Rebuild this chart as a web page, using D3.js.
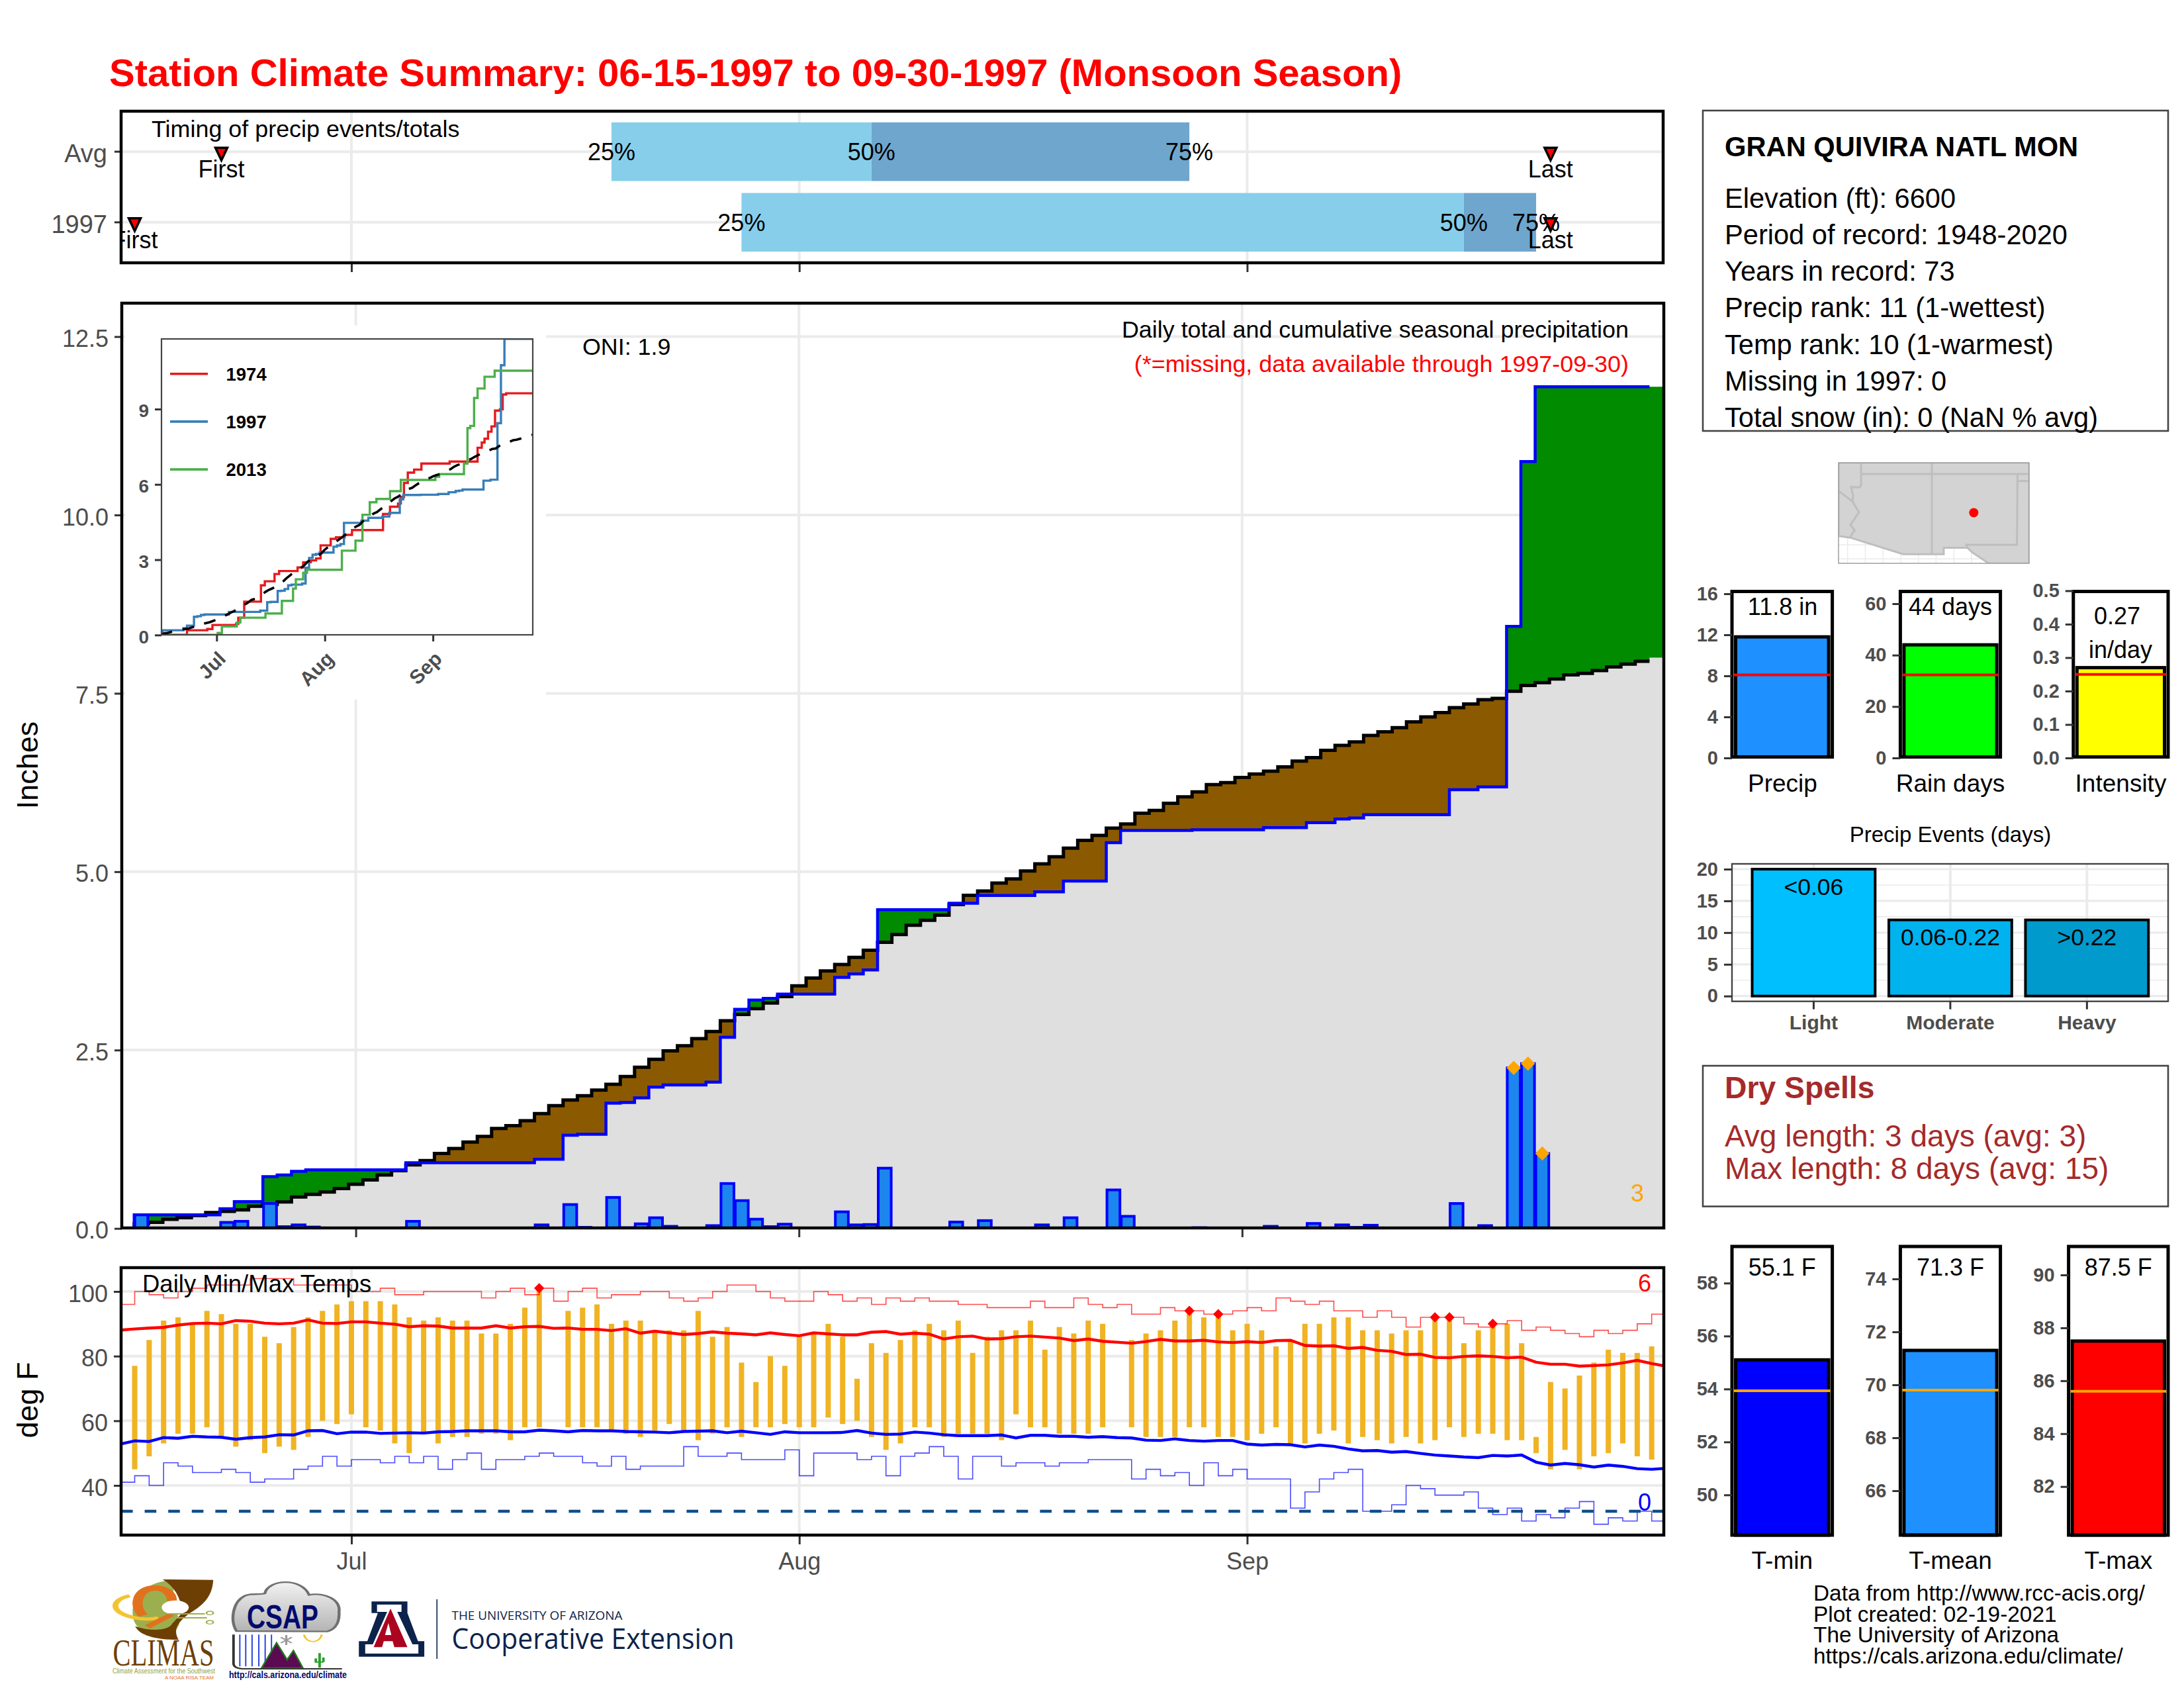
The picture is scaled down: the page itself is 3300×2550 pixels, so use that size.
<!DOCTYPE html>
<html>
<head>
<meta charset="utf-8">
<script src="https://cdn.jsdelivr.net/npm/d3@7"></script>
<style>
  html, body { margin: 0; padding: 0; background: #fff; }
  svg { display: block; font-family: "Liberation Sans", Arial, sans-serif; }
  .tick line { stroke: #333; stroke-width: 3; }
  .tick text { fill: #4D4D4D; }
  .domain { display: none; }
  .bold-ticks .tick text { font-weight: bold; font-size: 29px; }
</style>
</head>
<body>
<svg id="chart" width="3300" height="2550"></svg>
<script>
// --- season: day 0 is 15 June 1997, day 107 is 30 Sep 1997
const seasonStart = Date.UTC(1997, 5, 15);
const monthTicks = [16, 47, 78];

// --- timing panel
const timingRows = ['Avg', '1997'];
const timingQ25 = [34, 43];
const timingQ50 = [52, 93];
const timingQ75 = [74, 98];
const timingFirst = [7, 1];
const timingLast = [99, 99];

// --- daily precip for 1997 (only days that had any)
const precipDays = [1,7,8,10,11,12,13,20,29,31,32,34,35,36,37,38,41,42,43,44,45,46,50,51,52,53,58,60,64,66,69,70,75,80,83,85,86,87,93,95,97,98,99];
const precipInches = [.19,.085,.10,.35,.025,.05,.02,.10,.05,.335,.015,.435,.01,.065,.15,.03,.04,.63,.39,.13,.025,.06,.233,.05,.055,.845,.09,.11,.05,.15,.54,.17,.01,.03,.07,.05,.015,.045,.35,.04,2.25,2.31,1.05];
const extremeDays = [97, 98, 99];

// --- average cumulative precip, one value per day
const avgCumulative = [0,.065,.085,.127,.151,.182,.223,.24,.26,.31,.336,.37,.44,.477,.51,.56,.62,.68,.75,.81,.89,.95,1.05,1.12,1.21,1.29,1.40,1.44,1.51,1.61,1.72,1.80,1.86,1.94,2.02,2.13,2.26,2.37,2.49,2.56,2.66,2.76,2.91,3.00,3.08,3.16,3.25,3.40,3.51,3.61,3.70,3.80,3.90,4.01,4.12,4.25,4.32,4.39,4.54,4.67,4.73,4.84,4.90,5.01,5.11,5.21,5.33,5.44,5.51,5.61,5.67,5.82,5.86,5.96,6.05,6.12,6.22,6.25,6.32,6.37,6.41,6.47,6.55,6.60,6.70,6.77,6.82,6.91,6.96,7.02,7.10,7.17,7.23,7.30,7.35,7.41,7.43,7.53,7.61,7.65,7.70,7.76,7.78,7.82,7.87,7.91,7.95,8.00];

// --- inset: other years, day of each step and value after it
const days1974 = [0,7.5,13.3,14.8,21.6,22.2,23.9,28.7,29.8,32.6,33.9,39.2,40.8,43,44.5,45.8,48.7,50.2,52.7,54.8,63.7,65.7,68,68.8,69.7,70.8,72.6,74.7,82.8,90.8,92,92.8,93.8,94.8,95.8,97.2,98,99,107];
const vals1974 = [0,.19,.24,.40,.45,.69,1.33,1.98,2.14,2.43,2.55,2.69,2.90,2.97,3.05,3.57,3.83,3.89,3.99,4.18,4.82,5.11,5.24,5.5,6.06,6.47,6.59,6.83,6.91,7.46,7.67,7.82,8.10,8.31,8.94,8.99,9.58,9.63,9.63];
const days2013 = [0,16.3,17.5,21.8,22.8,30,34.7,37.9,38.7,40.8,41.9,51.9,55.8,57.8,59.9,61.8,65.7,68.8,78.7,79.8,86.9,87.9,88.7,89.8,90.8,92.8,95.7,107];
const vals2013 = [0,.08,.34,.5,.69,.86,1.36,1.85,2.22,2.48,2.60,3.36,3.76,4.79,5.29,5.42,5.73,6.18,6.30,6.41,6.83,8.24,8.33,9.44,9.82,10.29,10.53,10.53];
const insetYears = ['1974', '1997', '2013'];
const insetColors = ['#E41A1C', '#377EB8', '#4DAF4A'];

// --- daily temps (null = missing)
const tmax = [null,77,85,91,92,90,94,93,90,90,86,84,89,92,94,96,97,97,97,96,92,91,92,91,91,87,87,90,95,101,null,94,95,96,90,91,91,88,88,88,94,86,89,78,72,80,77,86,87,90,86,73,84,81,85,88,90,88,91,81,86,88,88,91,82,89,87,91,90,null,85,87,88,91,94,92,93,88,90,88,83,85,90,90,92,92,88,88,87,88,88,92,92,84,88,90,90,84,55,72,70,74,78,82,81,81,83,null];
const tmin = [null,45,49,53,56,56,58,55,52,54,50,52,51,55,60,59,62,58,57,53,50,56,53,55,55,56,56,54,58,58,null,58,58,58,57,56,55,57,59,57,54,56,58,55,58,58,59,58,58,61,59,60,55,51,53,58,58,55,56,56,56,54,62,58,58,56,56,56,58,null,58,55,55,55,58,58,55,55,54,56,58,53,53,56,57,53,55,54,53,55,53,54,58,55,56,56,54,54,50,45,51,45,49,50,53,49,48,null];
const avgTmax = [88.05,88.4,88.7,88.9,89.6,90.1,90.2,90,91,90.8,90.2,90,90.2,91.2,90.2,90.1,90.6,90.6,90.2,89.9,89.1,89.4,89.3,88.7,88.7,88.7,89.4,88.7,89.1,89.2,88.6,88.7,88.3,88.3,87.9,88.5,87.1,87.7,87.2,86.7,87,87.5,87.1,86.9,86.6,87.2,86.7,86.3,87.2,86.9,86.6,86.6,87.4,87.6,86.8,87.1,86.8,85.3,86,86.2,85.3,85.4,86,86.2,85.9,85.6,84.8,85.3,84.6,84.3,84,84.5,85.2,84.7,84.7,84.9,84.4,84.2,84.5,84.2,84.8,84.9,83.3,83.1,83.2,82.4,82.7,81.8,81.5,80.5,80.6,79.6,79.5,79.9,80.1,79.9,79.5,79.7,78.1,77.5,77.5,76.9,77.1,77.3,77.9,78.7,77.7,76.9];
const avgTmin = [52.8,53.8,53.6,54.8,54.6,55.2,55,54.9,54.3,54.8,55,55.7,55.6,56.9,57,56,56.5,56.5,56.1,56.2,56.3,56.2,56.6,56.7,56.9,56.9,56.9,56.6,56.6,57.1,56.9,56.6,57,56.9,56.9,56.7,56.6,56.5,56.3,56.7,56.8,56.9,56.3,56.8,56.3,55.8,56.6,56.3,56.3,56.3,56.4,57,56.2,55.8,55.9,56.5,56.2,55.7,55.4,55.4,55.4,55.6,54.7,55.5,55.5,55.2,55.2,54.9,55.1,54.8,54.7,54,53.9,54.4,53.9,53.7,53.9,53.9,52.8,52.5,52.7,52.6,51.9,52.5,52.1,51.3,50.7,50.8,50.3,50.5,49.9,49.4,49.1,48.8,48.6,49.3,49.1,49.4,47.2,46.3,46.8,46.4,45.7,46.3,45.9,45.2,45,45.3];
const recordMax = [96,100,99,98,100,101,102,102,102,104,104,104,102,102,102,102,100,100,101,99,99,100,100,100,100,98,100,101,99,101,97,100,101,98,99,99,100,100,98,97,98,100,102,102,100,98,97,97,100,99,97,98,96,98,97,98,97,97,96,96,95,95,95,97,95,95,98,96,95,96,93,93,95,94,94,93,93,94,95,94,98,97,96,97,94,94,92,94,92,89,92,92,92,90,89,90,91,88,89,88,87,86,88,87,88,90,93,93];
const recordMin = [41,43,40,47,46,44,44,45,44,41,42,42,45,46,49,46,48,48,47,49,47,49,45,48,50,45,48,48,49,50,49,49,47,46,49,45,46,46,46,52,49,49,50,48,48,48,51,43,50,50,50,48,49,43,49,50,52,49,42,49,49,46,47,47,46,47,47,48,48,48,42,45,43,44,40,47,43,45,42,42,42,33,38,42,44,45,32,32,34,40,39,37,37,38,33,31,33,29,31,30,33,35,28,30,29,32,29,29];
const recordHighDays = [29, 74, 76, 91, 92, 95];
const freezeLine = 32;

// --- summary bars
const totalLabels = ['Precip', 'Rain days', 'Intensity'];
const totalValues = [11.8, 44, 0.27];
const totalAverages = [8.1, 32.3, 0.25];
const totalColors = ['#1E90FF', '#00FF00', '#FFFF00'];
const eventLabels = ['Light', 'Moderate', 'Heavy'];
const eventValues = [20, 12, 12];
const eventRanges = ['<0.06', '0.06-0.22', '>0.22'];
const eventColors = ['#00BFFF', '#00B2EE', '#009ACD'];
const tempLabels = ['T-min', 'T-mean', 'T-max'];
const tempValues = [55.1, 71.3, 87.5];
const tempAverages = [53.93, 69.8, 85.6];
const tempColors = ['#0000FF', '#1E90FF', '#FF0000'];

const infoLines = ['Elevation (ft): 6600', 'Period of record: 1948-2020', 'Years in record: 73', 'Precip rank: 11 (1-wettest)', 'Temp rank: 10 (1-warmest)', 'Missing in 1997: 0', 'Total snow (in): 0 (NaN % avg)'];
const creditLines = ['Data from http://www.rcc-acis.org/', 'Plot created: 02-19-2021', 'The University of Arizona', 'https://cals.arizona.edu/climate/'];

// --- locator map, lon/lat
const landEdge = [[-115.64,37.81],[-102.17,37.81],[-102.17,30.66],[-105,30.66],[-106.2,31.46],[-106.53,31.78],[-108.21,31.78],[-108.21,31.33],[-111.07,31.33],[-114.81,32.5],[-115.64,32.62]];
const stateLines = [
  [[-114.05,37.81],[-114.05,36.2],[-114.15,36.05],[-114.75,36.08],[-114.62,35.5],[-114.65,35.05],[-114.2,34.3],[-114.8,33.4],[-114.5,33],[-114.72,32.72],[-114.81,32.5]],
  [[-115.64,35.8],[-114.63,35.05]],
  [[-114.05,37],[-102.17,37]],
  [[-109.05,37.81],[-109.05,31.33]],
  [[-103,37],[-103.04,32],[-106.62,32],[-106.53,31.78]],
  [[-103,36.5],[-102.17,36.5]]
];
const stationLonLat = [-106.09, 34.26];
const gridLons = [-115, -113.75, -112.5, -111.25, -110, -108.75, -107.5, -106.25];
const gridLats = [31, 32];

const day = i => new Date(seasonStart + i * 864e5);
const svg = d3.select('#chart');
const defs = svg.append('defs');

function addClip(id, x0, y0, x1, y1) {
  defs.append('clipPath').attr('id', id).append('rect')
    .attr('x', x0).attr('y', y0).attr('width', x1 - x0).attr('height', y1 - y0);
}

function label(parent, x, y, text, size, opts = {}) {
  return parent.append('text')
    .attr('x', x).attr('y', y)
    .attr('font-size', size)
    .attr('text-anchor', opts.anchor || 'start')
    .attr('font-weight', opts.weight || 'normal')
    .attr('fill', opts.fill || '#000')
    .text(text);
}

function border(x0, y0, x1, y1, width, color) {
  svg.append('rect').attr('x', x0).attr('y', y0).attr('width', x1 - x0).attr('height', y1 - y0)
    .attr('fill', 'none').attr('stroke', color || '#000').attr('stroke-width', width);
}

function gridX(g, x, vals, y0, y1) {
  g.selectAll(null).data(vals).enter().append('line')
    .attr('x1', d => x(d)).attr('x2', d => x(d)).attr('y1', y0).attr('y2', y1)
    .attr('stroke', '#EBEBEB').attr('stroke-width', 4);
}

function gridY(g, y, vals, x0, x1, width) {
  g.selectAll(null).data(vals).enter().append('line')
    .attr('x1', x0).attr('x2', x1).attr('y1', d => y(d)).attr('y2', d => y(d))
    .attr('stroke', '#EBEBEB').attr('stroke-width', width || 4);
}

const monthDates = monthTicks.map(day);
const monthFmt = d3.utcFormat('%b');

label(svg, 165, 130, 'Station Climate Summary: 06-15-1997 to 09-30-1997 (Monsoon Season)', 58, {weight: 'bold', fill: '#FF0000'});

// ---------- timing panel ----------
const topBox = {x0: 183, x1: 2513, y0: 168, y1: 397};
const xWide = d3.scaleUtc().domain([day(0), day(107)]).range([181.7, 2517.5]);
const yTiming = d3.scaleBand().domain(timingRows).range([175.8, 389.2]);
const rowMid = r => yTiming(r) + yTiming.bandwidth() / 2;

addClip('clip-top', topBox.x0, topBox.y0, topBox.x1, topBox.y1);
const topG = svg.append('g').attr('clip-path', 'url(#clip-top)');
gridX(topG, xWide, monthDates, topBox.y0, topBox.y1);
topG.selectAll(null).data(timingRows).enter().append('line')
  .attr('x1', topBox.x0).attr('x2', topBox.x1).attr('y1', rowMid).attr('y2', rowMid)
  .attr('stroke', '#EBEBEB').attr('stroke-width', 4);

timingRows.forEach((row, r) => {
  const mid = rowMid(row);
  const barH = 88.6;
  topG.append('rect').attr('x', xWide(day(timingQ25[r]))).attr('y', mid - barH / 2)
    .attr('width', xWide(day(timingQ50[r])) - xWide(day(timingQ25[r]))).attr('height', barH).attr('fill', '#87CEEB');
  topG.append('rect').attr('x', xWide(day(timingQ50[r]))).attr('y', mid - barH / 2)
    .attr('width', xWide(day(timingQ75[r])) - xWide(day(timingQ50[r]))).attr('height', barH).attr('fill', '#6FA6CD');
  [['25%', timingQ25[r]], ['50%', timingQ50[r]], ['75%', timingQ75[r]]].forEach(([t, d]) => {
    label(topG, xWide(day(d)), mid + 13, t, 36, {anchor: 'middle'});
  });
  [['First', timingFirst[r]], ['Last', timingLast[r]]].forEach(([t, d]) => {
    const cx = xWide(day(d));
    label(topG, cx, mid + 39, t, 36, {anchor: 'middle'});
    topG.append('path')
      .attr('d', d3.line()([[cx - 9, mid - 6], [cx + 9, mid - 6], [cx, mid + 13]]) + 'Z')
      .attr('fill', '#FF0000').attr('stroke', '#000').attr('stroke-width', 3.5);
  });
});
label(topG, 229, 206.5, 'Timing of precip events/totals', 35.9);

svg.append('g').attr('transform', `translate(${topBox.x0},0)`)
  .call(d3.axisLeft(yTiming).tickSize(10).tickPadding(11))
  .call(g => g.selectAll('text').attr('font-size', 38).attr('font-family', 'inherit').attr('dy', '.42em'));
svg.append('g').attr('transform', `translate(0,${topBox.y1})`)
  .call(d3.axisBottom(xWide).tickValues(monthDates).tickSize(14).tickFormat(''));
border(topBox.x0, topBox.y0, topBox.x1, topBox.y1, 4.5);

// ---------- main cumulative panel ----------
const mainBox = {x0: 184, x1: 2514, y0: 458, y1: 1855};
const xMain = d3.scaleUtc().domain([day(0), day(107)]).range([192, 2503.2]);
const yMain = d3.scaleLinear().domain([0, 12.5]).range([1855.75, 508.5]);

const dailyPrecip = avgCumulative.map(() => 0);
precipDays.forEach((d, k) => { dailyPrecip[d] = precipInches[k]; });
const cum1997 = Array.from(d3.cumsum(dailyPrecip));

// value of a day holds from half a day before to half a day after it
function stepPoints(vals, end) {
  const pts = vals.map((v, i) => ({i: i - 0.5, v}));
  pts.push({i: end, v: vals[vals.length - 1]});
  return pts;
}

const fillPts = stepPoints(cum1997.map((v, i) => [v, avgCumulative[i]]), 107.5);
const fillArea = (lo, hi) => d3.area().curve(d3.curveStepAfter)
  .x(p => xMain(day(p.i))).y0(p => yMain(lo(p.v))).y1(p => yMain(hi(p.v)));

addClip('clip-main', mainBox.x0, mainBox.y0, mainBox.x1, mainBox.y1);
const mainG = svg.append('g').attr('clip-path', 'url(#clip-main)');
gridX(mainG, xMain, monthDates, mainBox.y0, mainBox.y1);
gridY(mainG, yMain, [2.5, 5, 7.5, 10, 12.5], mainBox.x0, mainBox.x1);

mainG.append('path').datum(fillPts).attr('fill', '#DFDFDF')
  .attr('d', fillArea(() => 0, v => Math.min(v[0], v[1])));
mainG.append('path').datum(fillPts).attr('fill', '#8B5A00')
  .attr('d', fillArea(v => Math.min(v[0], v[1]), v => v[1]));
mainG.append('path').datum(fillPts).attr('fill', '#008B00')
  .attr('d', fillArea(v => v[1], v => Math.max(v[0], v[1])));

const mainLine = d3.line().curve(d3.curveStepAfter).x(p => xMain(day(p.i))).y(p => yMain(p.v));
mainG.append('path').datum(stepPoints(avgCumulative.slice(0, 107), 106.5))
  .attr('fill', 'none').attr('stroke', '#000').attr('stroke-width', 5).attr('d', mainLine);
mainG.append('path').datum(stepPoints(cum1997.slice(0, 107), 106.5))
  .attr('fill', 'none').attr('stroke', '#0000FF').attr('stroke-width', 4.5).attr('d', mainLine);

const dayPx = xMain(day(1)) - xMain(day(0));
mainG.selectAll('rect.rain').data(precipDays).enter().append('rect').attr('class', 'rain')
  .attr('x', d => xMain(day(d - 0.5)) + 1)
  .attr('y', d => yMain(dailyPrecip[d]))
  .attr('width', dayPx - 2)
  .attr('height', d => yMain(0) - yMain(dailyPrecip[d]))
  .attr('fill', '#1C86EE').attr('stroke', '#0000FF').attr('stroke-width', 4);

mainG.selectAll('path.extreme').data(extremeDays).enter().append('path').attr('class', 'extreme')
  .attr('d', d3.symbol(d3.symbolSquare, 230))
  .attr('transform', d => `translate(${xMain(day(d))},${yMain(dailyPrecip[d])}) rotate(45)`)
  .attr('fill', '#FFA500');

label(mainG, 2474, 1815, extremeDays.length, 36, {anchor: 'middle', fill: '#FFA500'});
label(mainG, 880, 536, 'ONI: 1.9', 35.8);
label(mainG, 2461, 510, 'Daily total and cumulative seasonal precipitation', 35.9, {anchor: 'end'});
label(mainG, 2461, 562, '(*=missing, data available through 1997-09-30)', 35.9, {anchor: 'end', fill: '#FF0000'});

svg.append('g').attr('transform', `translate(${mainBox.x0},0)`)
  .call(d3.axisLeft(yMain).tickValues([0, 2.5, 5, 7.5, 10, 12.5]).tickFormat(d3.format('.1f')).tickSize(11).tickPadding(9))
  .call(g => g.selectAll('text').attr('font-size', 36).attr('dy', '.42em'));
svg.append('g').attr('transform', `translate(0,${mainBox.y1})`)
  .call(d3.axisBottom(xMain).tickValues(monthDates).tickSize(14).tickFormat(''));
border(mainBox.x0, mainBox.y0, mainBox.x1, mainBox.y1, 4.5);
label(svg, 0, 0, 'Inches', 45, {anchor: 'middle'}).attr('transform', 'translate(57,1156) rotate(-90)');

// ---------- inset ----------
const inBox = {x0: 244, x1: 805, y0: 512, y1: 959};
svg.append('rect').attr('x', 189).attr('y', 491.5).attr('width', 636).attr('height', 565.5).attr('fill', '#fff');
const xIn = d3.scaleUtc().domain([day(0), day(107)]).range([243, 807]);
const yIn = d3.scaleLinear().domain([0, 9]).range([959.3, 618]);
addClip('clip-in', inBox.x0, inBox.y0, inBox.x1, inBox.y1);
const inG = svg.append('g').attr('clip-path', 'url(#clip-in)');

const inLine = d3.line().curve(d3.curveStepAfter).x(p => xIn(day(p[0]))).y(p => yIn(p[1]));
const seriesFor = (days, vals) => days.map((d, k) => [d, vals[k]]);
const inSeries = [
  seriesFor(days1974, vals1974),
  cum1997.map((v, i) => [i - 0.5, v]),
  seriesFor(days2013, vals2013)
];
inSeries.forEach((s, k) => {
  inG.append('path').datum(s).attr('fill', 'none').attr('stroke', insetColors[k])
    .attr('stroke-width', 3.4).attr('d', inLine);
});
inG.append('path').datum(avgCumulative.map((v, i) => [i, v])).attr('fill', 'none').attr('stroke', '#000')
  .attr('stroke-width', 3.6).attr('stroke-dasharray', '18 16')
  .attr('d', d3.line().x(p => xIn(day(p[0]))).y(p => yIn(p[1])));

insetYears.forEach((yr, k) => {
  const ly = 564.7 + k * 72.2;
  svg.append('line').attr('x1', 257).attr('x2', 314).attr('y1', ly).attr('y2', ly)
    .attr('stroke', insetColors[k]).attr('stroke-width', 3.6);
  label(svg, 341.5, ly + 10, yr, 27.5, {weight: 'bold'});
});

svg.append('g').attr('class', 'bold-ticks').attr('transform', `translate(${inBox.x0},0)`)
  .call(d3.axisLeft(yIn).tickValues([0, 3, 6, 9]).tickSize(10).tickPadding(9))
  .call(g => g.selectAll('text').style('font-size', '28px').attr('dy', '.42em'));
svg.append('g').attr('class', 'bold-ticks').attr('transform', `translate(0,${inBox.y1})`)
  .call(d3.axisBottom(xIn).tickValues(monthDates).tickSize(10).tickFormat(monthFmt))
  .call(g => g.selectAll('text').style('font-size', '30px')
    .attr('text-anchor', 'end').attr('dy', 0).attr('y', 0)
    .attr('transform', 'translate(15,38) rotate(-45)'));
border(inBox.x0, inBox.y0, inBox.x1, inBox.y1, 2.2, '#444');

// ---------- temperature panel ----------
const tempBox = {x0: 183, x1: 2514, y0: 1915, y1: 2319};
const yTemp = d3.scaleLinear().domain([40, 100]).range([2244, 1951]);
addClip('clip-temp', tempBox.x0, tempBox.y0, tempBox.x1, tempBox.y1);
const tempG = svg.append('g').attr('clip-path', 'url(#clip-temp)');
gridX(tempG, xWide, monthDates, tempBox.y0, tempBox.y1);
gridY(tempG, yTemp, [40, 60, 80, 100], tempBox.x0, tempBox.x1);

const tempDays = d3.range(108);
tempG.selectAll('rect.range').data(tempDays.filter(i => tmax[i] !== null)).enter().append('rect').attr('class', 'range')
  .attr('x', i => xWide(day(i)) - 4)
  .attr('y', i => yTemp(tmax[i]))
  .attr('width', 8)
  .attr('height', i => yTemp(tmin[i]) - yTemp(tmax[i]))
  .attr('fill', '#F0B323');

const stepT = d3.line().curve(d3.curveStepAfter).x((v, i) => xWide(day(i))).y(v => yTemp(v));
const lineT = d3.line().x((v, i) => xWide(day(i))).y(v => yTemp(v));
tempG.append('path').datum(recordMax).attr('fill', 'none').attr('stroke', '#FF0000')
  .attr('stroke-width', 1.6).attr('stroke-opacity', .7).attr('d', stepT);
tempG.append('path').datum(recordMin).attr('fill', 'none').attr('stroke', '#0000FF')
  .attr('stroke-width', 1.6).attr('stroke-opacity', .7).attr('d', stepT);
tempG.append('path').datum(avgTmax).attr('fill', 'none').attr('stroke', '#FF0000')
  .attr('stroke-width', 4.4).attr('d', lineT);
tempG.append('path').datum(avgTmin).attr('fill', 'none').attr('stroke', '#0000FF')
  .attr('stroke-width', 4.4).attr('d', lineT);
tempG.append('line').attr('x1', tempBox.x0).attr('x2', tempBox.x1)
  .attr('y1', yTemp(freezeLine)).attr('y2', yTemp(freezeLine))
  .attr('stroke', '#104E8B').attr('stroke-width', 4.5).attr('stroke-dasharray', '17.6 18');

tempG.selectAll('path.rec').data(recordHighDays).enter().append('path').attr('class', 'rec')
  .attr('d', d3.symbol(d3.symbolSquare, 120))
  .attr('transform', i => `translate(${xWide(day(i))},${yTemp(tmax[i])}) rotate(45)`)
  .attr('fill', '#FF0000');

label(tempG, 215, 1952, 'Daily Min/Max Temps', 36.5);
label(tempG, 2485, 1951, recordHighDays.length, 36, {anchor: 'middle', fill: '#FF0000'});
label(tempG, 2485, 2282, 0, 36, {anchor: 'middle', fill: '#0000FF'});

svg.append('g').attr('transform', `translate(${tempBox.x0},0)`)
  .call(d3.axisLeft(yTemp).tickValues([40, 60, 80, 100]).tickSize(11).tickPadding(9))
  .call(g => g.selectAll('text').attr('font-size', 36).attr('dy', '.42em'));
svg.append('g').attr('transform', `translate(0,${tempBox.y1})`)
  .call(d3.axisBottom(xWide).tickValues(monthDates).tickSize(14).tickPadding(12).tickFormat(monthFmt))
  .call(g => g.selectAll('text').attr('font-size', 36));
border(tempBox.x0, tempBox.y0, tempBox.x1, tempBox.y1, 4.5);
label(svg, 0, 0, 'deg F', 45, {anchor: 'middle'}).attr('transform', 'translate(57,2115) rotate(-90)');

// ---------- station info ----------
border(2573, 167, 3276, 651, 2.6, '#444');
label(svg, 2606, 236, 'GRAN QUIVIRA NATL MON', 41.7, {weight: 'bold'});
infoLines.forEach((t, k) => label(svg, 2606, 313.5 + k * 55.3, t, 41.6));

// ---------- locator map ----------
const mapBox = {x0: 2778, x1: 3066, y0: 699, y1: 851};
const lonX = d3.scaleLinear().domain([-115.64, -109.05]).range([2778, 2919]);
const latY = d3.scaleLinear().domain([37, 31.33]).range([716, 837.2]);
const geoLine = d3.line().x(p => lonX(p[0])).y(p => latY(p[1]));
addClip('clip-map', mapBox.x0, mapBox.y0, mapBox.x1, mapBox.y1);
const mapG = svg.append('g').attr('clip-path', 'url(#clip-map)');
gridLons.forEach(lon => mapG.append('line').attr('x1', lonX(lon)).attr('x2', lonX(lon))
  .attr('y1', mapBox.y0).attr('y2', mapBox.y1).attr('stroke', '#EBEBEB').attr('stroke-width', 1.5));
gridLats.forEach(lat => mapG.append('line').attr('x1', mapBox.x0).attr('x2', mapBox.x1)
  .attr('y1', latY(lat)).attr('y2', latY(lat)).attr('stroke', '#EBEBEB').attr('stroke-width', 1.5));
mapG.append('path').datum(landEdge).attr('fill', '#D3D3D3').attr('stroke', '#BEBEBE').attr('stroke-width', 3)
  .attr('d', d => geoLine(d) + 'Z');
stateLines.forEach(s => mapG.append('path').datum(s).attr('fill', 'none')
  .attr('stroke', '#BEBEBE').attr('stroke-width', 3).attr('d', geoLine));
mapG.append('circle').attr('cx', lonX(stationLonLat[0])).attr('cy', latY(stationLonLat[1])).attr('r', 7).attr('fill', '#FF0000');
border(mapBox.x0, mapBox.y0, mapBox.x1, mapBox.y1, 1.2, '#888');

// ---------- summary bars ----------
function summaryBar(box, y, value, avg, color, avgColor, axisTicks, tickFmt) {
  const g = svg.append('g');
  g.append('rect').attr('x', box.x0 + 5.5).attr('y', y(value))
    .attr('width', box.x1 - box.x0 - 11).attr('height', box.y1 - y(value))
    .attr('fill', color).attr('stroke', '#000').attr('stroke-width', 5);
  g.append('line').attr('x1', box.x0 + 3).attr('x2', box.x1 - 3).attr('y1', y(avg)).attr('y2', y(avg))
    .attr('stroke', avgColor).attr('stroke-width', 4);
  border(box.x0, box.y0, box.x1, box.y1, 5);
  svg.append('g').attr('class', 'bold-ticks').attr('transform', `translate(${box.x0},0)`)
    .call(d3.axisLeft(y).tickValues(axisTicks).tickSize(12).tickPadding(9).tickFormat(tickFmt));
}

const totalBoxes = [[2617, 2768.6], [2871.4, 3022.6], [3132.8, 3276]].map(([x0, x1]) => ({x0, x1, y0: 893.5, y1: 1143.5}));
const totalScales = [
  d3.scaleLinear().domain([0, 16]).range([1145, 897]),
  d3.scaleLinear().domain([0, 60]).range([1145, 912]),
  d3.scaleLinear().domain([0, .5]).range([1145, 892.4])
];
const totalTicks = [[0, 4, 8, 12, 16], [0, 20, 40, 60], [0, .1, .2, .3, .4, .5]];
const totalFmt = [d3.format('d'), d3.format('d'), d3.format('.1f')];
totalLabels.forEach((t, k) => {
  summaryBar(totalBoxes[k], totalScales[k], totalValues[k], totalAverages[k], totalColors[k], '#FF0000', totalTicks[k], totalFmt[k]);
});
label(svg, 2693.5, 929, '11.8 in', 36, {anchor: 'middle'});
label(svg, 2947, 929, '44 days', 36, {anchor: 'middle'});
label(svg, 3199, 943, '0.27', 36, {anchor: 'middle'});
label(svg, 3204, 994, 'in/day', 36, {anchor: 'middle'});
[2693.5, 2947, 3204.5].forEach((cx, k) => label(svg, cx, 1196, totalLabels[k], 37, {anchor: 'middle'}));

// ---------- precip events ----------
const evBox = {x0: 2617, x1: 3276, y0: 1305, y1: 1512.7};
const xEvents = d3.scaleBand().domain(eventLabels).range([2637.2, 3256.6]).paddingInner(0.1).paddingOuter(0.05);
const yEvents = d3.scaleLinear().domain([0, 20]).range([1504.7, 1313]);
gridY(svg, yEvents, [2.5, 7.5, 12.5, 17.5], evBox.x0, evBox.x1, 1.6);
gridY(svg, yEvents, [0, 5, 10, 15, 20], evBox.x0, evBox.x1, 3.2);
gridX(svg, d => xEvents(d) + xEvents.bandwidth() / 2, eventLabels, evBox.y0, evBox.y1);
svg.selectAll('rect.event').data(eventLabels).enter().append('rect').attr('class', 'event')
  .attr('x', d => xEvents(d)).attr('width', xEvents.bandwidth())
  .attr('y', (d, k) => yEvents(eventValues[k]))
  .attr('height', (d, k) => yEvents(0) - yEvents(eventValues[k]))
  .attr('fill', (d, k) => eventColors[k]).attr('stroke', '#000').attr('stroke-width', 4);
eventLabels.forEach((d, k) => {
  label(svg, xEvents(d) + xEvents.bandwidth() / 2, yEvents(eventValues[k]) + 38.5, eventRanges[k], 35.5, {anchor: 'middle'});
});
border(evBox.x0, evBox.y0, evBox.x1, evBox.y1, 2.4, '#444');
label(svg, 2947, 1271.5, 'Precip Events (days)', 33, {anchor: 'middle'});
svg.append('g').attr('class', 'bold-ticks').attr('transform', `translate(${evBox.x0},0)`)
  .call(d3.axisLeft(yEvents).tickValues([0, 5, 10, 15, 20]).tickSize(12).tickPadding(9));
svg.append('g').attr('class', 'bold-ticks').attr('transform', `translate(0,${evBox.y1})`)
  .call(d3.axisBottom(xEvents).tickSize(12).tickPadding(9))
  .call(g => g.selectAll('text').style('font-size', '30px'));

// ---------- dry spells ----------
border(2573, 1610, 3276, 1822.5, 2.6, '#444');
label(svg, 2606, 1658.7, 'Dry Spells', 46.3, {weight: 'bold', fill: '#A52A2A'});
label(svg, 2606, 1732, 'Avg length: 3 days (avg: 3)', 46, {fill: '#A52A2A'});
label(svg, 2606, 1781, 'Max length: 8 days (avg: 15)', 46, {fill: '#A52A2A'});

// ---------- temperature summary ----------
const tempBoxes = [[2617, 2768.6], [2871.4, 3022.6], [3125.6, 3276]].map(([x0, x1]) => ({x0, x1, y0: 1883, y1: 2319}));
const tempScales = [
  d3.scaleLinear().domain([50, 58]).range([2258.3, 1938.3]),
  d3.scaleLinear().domain([66, 74]).range([2252, 1932]),
  d3.scaleLinear().domain([82, 90]).range([2245.7, 1926])
];
const tempTicks = [[50, 52, 54, 56, 58], [66, 68, 70, 72, 74], [82, 84, 86, 88, 90]];
tempLabels.forEach((t, k) => {
  summaryBar(tempBoxes[k], tempScales[k], tempValues[k], tempAverages[k], tempColors[k], '#FFA500', tempTicks[k], d3.format('d'));
  const cx = (tempBoxes[k].x0 + tempBoxes[k].x1) / 2;
  label(svg, cx, 1926.6, tempValues[k] + ' F', 36, {anchor: 'middle'});
  label(svg, cx, 2370, t, 37, {anchor: 'middle'});
});

creditLines.forEach((t, k) => label(svg, 2740, 2418 + k * 31.7, t, 33.4));

// ---------- logos, drawn in 1.568 x 3 stretched units ----------
const logo = svg.append('g').attr('transform', 'translate(150,2320) scale(0.6378,0.3333)');
// climas
logo.append('path').attr('d', 'M180,200 C110,205 72,280 80,370 C85,425 115,455 170,470 L190,400 L175,260 Z').attr('fill', '#9CAF4F');
logo.append('path').attr('d', 'M150,198 L270,200 C268,270 250,310 215,350 C190,385 172,420 188,472 C130,470 95,450 85,410 C120,435 165,430 172,400 L196,350 C195,290 180,230 150,198 Z').attr('fill', '#6E3F05');
logo.append('path').attr('d', 'M172,295 C172,250 145,228 118,240 C88,258 82,320 104,362').attr('fill', 'none').attr('stroke', '#E2711D').attr('stroke-width', 24);
logo.append('path').attr('d', 'M72,272 C25,292 25,350 85,372 C105,380 125,378 140,372').attr('fill', 'none').attr('stroke', '#F4C430').attr('stroke-width', 14);
logo.append('ellipse').attr('cx', 180).attr('cy', 325).attr('rx', 32).attr('ry', 32).attr('fill', '#fff');
logo.append('path').attr('d', 'M108,405 L165,352 L178,362 L120,420 Z').attr('fill', '#E2711D');
logo.append('path').attr('d', 'M165,354 H250 M175,372 H255').attr('stroke', '#9CAF4F').attr('stroke-width', 6).attr('fill', 'none');
logo.append('circle').attr('cx', 262).attr('cy', 350).attr('r', 8).attr('fill', 'none').attr('stroke', '#9CAF4F').attr('stroke-width', 4);
logo.append('circle').attr('cx', 262).attr('cy', 392).attr('r', 8).attr('fill', 'none').attr('stroke', '#9CAF4F').attr('stroke-width', 4);
// csap
const cloudFill = defs.append('linearGradient').attr('id', 'cloud-fill').attr('x1', 0).attr('x2', 0).attr('y1', 0).attr('y2', 1);
cloudFill.append('stop').attr('offset', '0').attr('stop-color', '#F2F2F2');
cloudFill.append('stop').attr('offset', '1').attr('stop-color', '#B4B4B4');
logo.append('path').attr('d', 'M325,432 C310,385 315,300 345,272 C355,260 380,268 392,262 C400,195 480,190 497,268 C535,255 572,290 568,345 C570,400 556,425 540,434 Z')
  .attr('fill', 'url(#cloud-fill)').attr('stroke', '#707070').attr('stroke-width', 7);
[333, 347, 362, 378, 393, 408].forEach(x => logo.append('line').attr('x1', x).attr('x2', x).attr('y1', 448).attr('y2', 592).attr('stroke', '#1E3FD8').attr('stroke-width', 3));
logo.append('path').attr('d', 'M318,448 V578 Q318,603 345,603 H575').attr('fill', 'none').attr('stroke', '#333').attr('stroke-width', 6);
logo.append('path').attr('d', 'M385,598 L420,485 L445,562 L460,520 L482,598 Z').attr('fill', '#5C0A52').attr('stroke', '#1E7A1E').attr('stroke-width', 4);
logo.append('path').attr('d', 'M443,450 V495 M430,460 L456,486 M430,486 L456,460').attr('stroke', '#999').attr('stroke-width', 5);
logo.append('path').attr('d', 'M485,448 C490,490 522,490 527,448').attr('fill', 'none').attr('stroke', '#F4C430').attr('stroke-width', 5);
logo.append('path').attr('d', 'M522,532 V598 M513,556 V572 H531 M531,552 V572').attr('fill', 'none').attr('stroke', '#2E9E2E').attr('stroke-width', 6);
// arizona block A
logo.append('path').attr('d', 'M645,298 H730 V350 L755,478 H770 V548 H615 V478 H635 L660,350 H645 Z').attr('fill', '#0C234B');
logo.append('path').attr('d', 'M658,312 H716 V345 H706 L742,492 H756 V534 H630 V492 H648 L682,345 H658 Z').attr('fill', '#fff');
logo.append('path').attr('d', 'M690,330 L730,505 H699 L695,478 H674 L670,505 H650 Z').attr('fill', '#AB0520');
logo.append('path').attr('d', 'M685,395 L692,450 H677 Z').attr('fill', '#fff');
logo.append('line').attr('x1', 800).attr('x2', 800).attr('y1', 288).attr('y2', 558).attr('stroke', '#0C234B').attr('stroke-width', 2.5);

label(svg, 247, 2516, 'CLIMAS', 56, {anchor: 'middle', fill: '#6E3F05'})
  .attr('font-family', 'Liberation Serif').attr('textLength', 153).attr('lengthAdjust', 'spacingAndGlyphs');
label(svg, 170, 2528, 'Climate Assessment for the Southwest', 11, {fill: '#8FA33F'})
  .attr('textLength', 155).attr('lengthAdjust', 'spacingAndGlyphs');
label(svg, 323, 2537, 'A NOAA RISA TEAM', 8, {anchor: 'end', fill: '#E2711D'});
label(svg, 427, 2460, 'CSAP', 50, {anchor: 'middle', weight: 'bold', fill: '#000A6E'})
  .attr('textLength', 108).attr('lengthAdjust', 'spacingAndGlyphs');
label(svg, 435, 2535, 'http://cals.arizona.edu/climate', 14, {anchor: 'middle', weight: 'bold', fill: '#000A6E'})
  .attr('textLength', 178).attr('lengthAdjust', 'spacingAndGlyphs');
label(svg, 682.5, 2447, 'THE UNIVERSITY OF ARIZONA', 18, {fill: '#0C234B'}).attr('font-family', 'Open Sans')
  .attr('textLength', 258).attr('lengthAdjust', 'spacingAndGlyphs');
label(svg, 682.5, 2491, 'Cooperative Extension', 44, {fill: '#0C234B'}).attr('font-family', 'Open Sans')
  .attr('textLength', 427).attr('lengthAdjust', 'spacingAndGlyphs');
</script>
</body>
</html>
